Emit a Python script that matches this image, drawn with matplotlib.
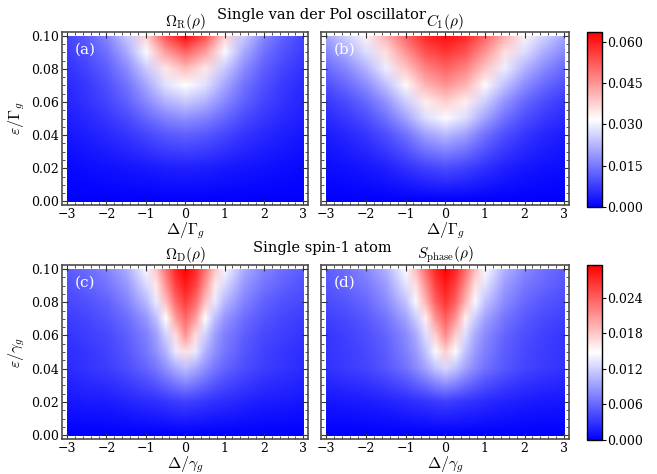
import numpy as np
import matplotlib.pyplot as plt
from matplotlib.image import NonUniformImage
from matplotlib.colors import Normalize
from matplotlib.patches import Rectangle
from matplotlib.ticker import MultipleLocator

plt.rcParams['font.family'] = 'DejaVu Serif'
plt.rcParams['mathtext.fontset'] = 'cm'

# grids
eps = [0, 0.02, 0.04, 0.05, 0.06, 0.07, 0.08, 0.09, 0.10]
delta_top = [-3, -2.5, -2, -1.5, -1, -0.5, 0, 0.5, 1, 1.5, 2, 2.5, 3]
delta_bot = [-3, -2.5, -2, -1.5, -1, -0.75, -0.5, -0.25, 0, 0.25, 0.5, 0.75, 1, 1.5, 2, 2.5, 3]

omega_r = [
    [0]*13,
    [0.0012, 0.0016, 0.0020, 0.0026, 0.0032, 0.0038, 0.0040, 0.0038, 0.0032, 0.0026, 0.0020, 0.0016, 0.0012],
    [0.0029, 0.0038, 0.0050, 0.0067, 0.0089, 0.0110, 0.0120, 0.0110, 0.0089, 0.0067, 0.0050, 0.0038, 0.0029],
    [0.0038, 0.0050, 0.0068, 0.0093, 0.0127, 0.0163, 0.0180, 0.0163, 0.0127, 0.0093, 0.0068, 0.0050, 0.0038],
    [0.0047, 0.0063, 0.0086, 0.0121, 0.0170, 0.0224, 0.0250, 0.0224, 0.0170, 0.0121, 0.0086, 0.0063, 0.0047],
    [0.0054, 0.0072, 0.0100, 0.0143, 0.0207, 0.0281, 0.0320, 0.0281, 0.0207, 0.0143, 0.0100, 0.0072, 0.0054],
    [0.0063, 0.0085, 0.0119, 0.0172, 0.0251, 0.0348, 0.0400, 0.0348, 0.0251, 0.0172, 0.0119, 0.0085, 0.0063],
    [0.0075, 0.0102, 0.0143, 0.0209, 0.0311, 0.0440, 0.0510, 0.0440, 0.0311, 0.0209, 0.0143, 0.0102, 0.0075],
    [0.0089, 0.0121, 0.0171, 0.0251, 0.0377, 0.0540, 0.0630, 0.0540, 0.0377, 0.0251, 0.0171, 0.0121, 0.0089],
]

c1 = [
    [0]*13,
    [0.0015, 0.0020, 0.0028, 0.0041, 0.0060, 0.0083, 0.0095, 0.0083, 0.0060, 0.0041, 0.0028, 0.0020, 0.0015],
    [0.0036, 0.0049, 0.0068, 0.0099, 0.0144, 0.0200, 0.0230, 0.0200, 0.0144, 0.0099, 0.0068, 0.0049, 0.0036],
    [0.0053, 0.0071, 0.0099, 0.0141, 0.0203, 0.0277, 0.0315, 0.0277, 0.0203, 0.0141, 0.0099, 0.0071, 0.0053],
    [0.0072, 0.0096, 0.0131, 0.0184, 0.0258, 0.0340, 0.0380, 0.0340, 0.0258, 0.0184, 0.0131, 0.0096, 0.0072],
    [0.0100, 0.0131, 0.0176, 0.0239, 0.0324, 0.0410, 0.0450, 0.0410, 0.0324, 0.0239, 0.0176, 0.0131, 0.0100],
    [0.0133, 0.0171, 0.0225, 0.0298, 0.0388, 0.0473, 0.0510, 0.0473, 0.0388, 0.0298, 0.0225, 0.0171, 0.0133],
    [0.0169, 0.0215, 0.0278, 0.0358, 0.0451, 0.0535, 0.0570, 0.0535, 0.0451, 0.0358, 0.0278, 0.0215, 0.0169],
    [0.0210, 0.0264, 0.0332, 0.0418, 0.0512, 0.0590, 0.0620, 0.0590, 0.0512, 0.0418, 0.0332, 0.0264, 0.0210],
]

omega_d = [
    [0]*17,
    [0.0013, 0.0015, 0.0017, 0.0021, 0.0026, 0.0028, 0.0032, 0.0035, 0.0037, 0.0035, 0.0032, 0.0028, 0.0026, 0.0021, 0.0017, 0.0015, 0.0013],
    [0.0025, 0.0030, 0.0035, 0.0044, 0.0058, 0.0069, 0.0084, 0.0099, 0.0110, 0.0099, 0.0084, 0.0069, 0.0058, 0.0044, 0.0035, 0.0030, 0.0025],
    [0.0027, 0.0032, 0.0039, 0.0050, 0.0068, 0.0083, 0.0104, 0.0135, 0.0165, 0.0135, 0.0104, 0.0083, 0.0068, 0.0050, 0.0039, 0.0032, 0.0027],
    [0.0030, 0.0036, 0.0042, 0.0055, 0.0074, 0.0092, 0.0122, 0.0168, 0.0210, 0.0168, 0.0122, 0.0092, 0.0074, 0.0055, 0.0042, 0.0036, 0.0030],
    [0.0035, 0.0041, 0.0049, 0.0063, 0.0087, 0.0110, 0.0148, 0.0204, 0.0235, 0.0204, 0.0148, 0.0110, 0.0087, 0.0063, 0.0049, 0.0041, 0.0035],
    [0.0042, 0.0048, 0.0057, 0.0075, 0.0107, 0.0135, 0.0185, 0.0234, 0.0260, 0.0234, 0.0185, 0.0135, 0.0107, 0.0075, 0.0057, 0.0048, 0.0042],
    [0.0048, 0.0056, 0.0067, 0.0087, 0.0126, 0.0160, 0.0210, 0.0258, 0.0280, 0.0258, 0.0210, 0.0160, 0.0126, 0.0087, 0.0067, 0.0056, 0.0048],
    [0.0054, 0.0063, 0.0077, 0.0100, 0.0145, 0.0183, 0.0230, 0.0274, 0.0295, 0.0274, 0.0230, 0.0183, 0.0145, 0.0100, 0.0077, 0.0063, 0.0054],
]

s_phase = [
    [0]*17,
    [0.0013, 0.0014, 0.0017, 0.0020, 0.0025, 0.0028, 0.0031, 0.0034, 0.0036, 0.0034, 0.0031, 0.0028, 0.0025, 0.0020, 0.0017, 0.0014, 0.0013],
    [0.0029, 0.0034, 0.0040, 0.0050, 0.0066, 0.0079, 0.0095, 0.0113, 0.0125, 0.0113, 0.0095, 0.0079, 0.0066, 0.0050, 0.0040, 0.0034, 0.0029],
    [0.0030, 0.0035, 0.0042, 0.0054, 0.0074, 0.0089, 0.0112, 0.0145, 0.0175, 0.0145, 0.0112, 0.0089, 0.0074, 0.0054, 0.0042, 0.0035, 0.0030],
    [0.0032, 0.0038, 0.0045, 0.0058, 0.0080, 0.0099, 0.0129, 0.0176, 0.0215, 0.0176, 0.0129, 0.0099, 0.0080, 0.0058, 0.0045, 0.0038, 0.0032],
    [0.0037, 0.0043, 0.0053, 0.0067, 0.0094, 0.0118, 0.0156, 0.0209, 0.0240, 0.0209, 0.0156, 0.0118, 0.0094, 0.0067, 0.0053, 0.0043, 0.0037],
    [0.0044, 0.0050, 0.0061, 0.0080, 0.0114, 0.0143, 0.0191, 0.0239, 0.0265, 0.0239, 0.0191, 0.0143, 0.0114, 0.0080, 0.0061, 0.0050, 0.0044],
    [0.0050, 0.0059, 0.0070, 0.0090, 0.0132, 0.0165, 0.0213, 0.0258, 0.0280, 0.0258, 0.0213, 0.0165, 0.0132, 0.0090, 0.0070, 0.0059, 0.0050],
    [0.0056, 0.0064, 0.0079, 0.0103, 0.0147, 0.0188, 0.0234, 0.0275, 0.0293, 0.0275, 0.0234, 0.0188, 0.0147, 0.0103, 0.0079, 0.0064, 0.0056],
]

top_max = 0.0636
bot_max = 0.0295
top_ticks = [0, 0.015, 0.030, 0.045, 0.060]
bot_ticks = [0, 0.006, 0.012, 0.018, 0.024]

fig = plt.figure(figsize=(6.57, 4.74), dpi=100)

panels = [
    ([0.0944, 0.5675, 0.375, 0.365], delta_top, omega_r, top_max, r'$\Omega_{\rm R}(\rho)$', '(a)', r'$\Gamma_g$', True),
    ([0.4886, 0.5675, 0.378, 0.365], delta_top, c1, top_max, r'$C_1(\rho)$', '(b)', r'$\Gamma_g$', False),
    ([0.0944, 0.0738, 0.375, 0.367], delta_bot, omega_d, bot_max, r'$\Omega_{\rm D}(\rho)$', '(c)', r'$\gamma_g$', True),
    ([0.4886, 0.0738, 0.378, 0.367], delta_bot, s_phase, bot_max, r'$S_{\rm phase}(\rho)$', '(d)', r'$\gamma_g$', False),
]

images = []
for rect, dx, z, vmax, title, tag, unit, left in panels:
    ax = fig.add_axes(rect)
    im = NonUniformImage(ax, interpolation='bilinear', cmap='bwr',
                         norm=Normalize(0, vmax), extent=(-3, 3, 0, 0.1))
    im.set_data(dx, eps, np.array(z))
    ax.add_image(im)
    im.set_clip_path(Rectangle((-3, 0), 6, 0.1, transform=ax.transData))
    images.append(im)
    ax.set_xlim(-3.13, 3.13)
    ax.set_ylim(-0.0022, 0.1023)
    ax.set_xticks([-3, -2, -1, 0, 1, 2, 3])
    ax.set_yticks([0, 0.02, 0.04, 0.06, 0.08, 0.10])
    ax.xaxis.set_minor_locator(MultipleLocator(0.2))
    ax.yaxis.set_minor_locator(MultipleLocator(0.005))
    ax.tick_params(which='both', direction='in', top=True, right=True, labelsize=9, color='0.2', pad=2)
    ax.tick_params(which='major', length=4, width=0.8)
    ax.tick_params(which='minor', length=2, width=0.6)
    if left:
        ax.yaxis.set_major_formatter(plt.FormatStrFormatter('%.2f'))
        ax.set_ylabel(r'$\varepsilon/$' + unit, fontsize=11.5, labelpad=3)
    else:
        ax.set_yticklabels([])
    ax.set_xlabel(r'$\Delta/$' + unit, fontsize=11.5, labelpad=0)
    ax.set_title(title, fontsize=11, pad=0)
    ax.text(0.053, 0.9, tag, transform=ax.transAxes, color='white', fontsize=11, va='center')
    for s in ax.spines.values():
        s.set_linewidth(1.2)
        s.set_color('0.3')

cax1 = fig.add_axes([0.8935, 0.5633, 0.0228, 0.369])
cb1 = fig.colorbar(images[0], cax=cax1, ticks=top_ticks, format='%.3f')
cax2 = fig.add_axes([0.8935, 0.0717, 0.0228, 0.369])
cb2 = fig.colorbar(images[2], cax=cax2, ticks=bot_ticks, format='%.3f')
for cb in (cb1, cb2):
    cb.ax.tick_params(labelsize=9, length=3, width=0.8, pad=1)
    cb.outline.set_linewidth(1.0)

fig.text(0.49, 0.968, 'Single van der Pol oscillator', ha='center', va='center', fontsize=10.5)
fig.text(0.49, 0.477, 'Single spin-1 atom', ha='center', va='center', fontsize=10.5)

fig.savefig('out.png', dpi=100)
